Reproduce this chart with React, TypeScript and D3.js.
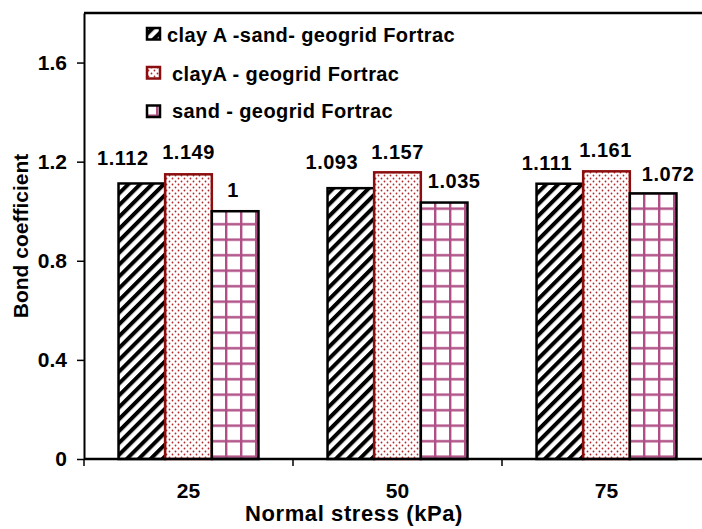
import React, { useEffect, useRef } from 'react';
import * as d3 from 'd3';

// chart data
const categories = ['25', '50', '75'];
const seriesNames = [
  'clay A -sand- geogrid Fortrac',
  'clayA - geogrid Fortrac',
  'sand - geogrid Fortrac',
];
const clayASandValues = [1.112, 1.093, 1.111];
const clayAValues = [1.149, 1.157, 1.161];
const sandValues = [1, 1.035, 1.072];
const yTicks = [0, 0.4, 0.8, 1.2, 1.6];

// hand-placed label nudges (Excel moved a few of them by hand)
const labelNudge: [number, number][][] = [
  [[-19, -4], [0, -1], [-2, 0]],
  [[-19, -5], [0, 1], [10, -1]],
  [[-13, 0], [-1, 0], [15, 2]],
];

const FONT = '"Liberation Sans", Arial, sans-serif';

const App: React.FC = () => {
  const svgRef = useRef<SVGSVGElement>(null);
  const width = 702;
  const height = 529;
  const margin = { top: 13, left: 84, bottom: 70 };

  useEffect(() => {
    if (!svgRef.current) return;
    const svg = d3.select(svgRef.current);
    svg.selectAll('*').remove();

    const series = [clayASandValues, clayAValues, sandValues];
    const fills = ['url(#hatch)', 'url(#dots)', 'url(#grid)'];
    const strokes = ['#000', '#8b0d0d', '#000'];

    // patterns
    const defs = svg.append('defs');
    const hatch = defs
      .append('pattern')
      .attr('id', 'hatch')
      .attr('patternUnits', 'userSpaceOnUse')
      .attr('width', 8.4)
      .attr('height', 8.4)
      .attr('patternTransform', 'rotate(45)');
    hatch.append('rect').attr('width', 8.4).attr('height', 8.4).attr('fill', '#fff');
    hatch.append('rect').attr('width', 4).attr('height', 8.4).attr('fill', '#000');

    const dots = defs
      .append('pattern')
      .attr('id', 'dots')
      .attr('patternUnits', 'userSpaceOnUse')
      .attr('width', 6)
      .attr('height', 6);
    dots.append('rect').attr('width', 6).attr('height', 6).attr('fill', '#fff');
    dots.append('circle').attr('cx', 1.5).attr('cy', 1.5).attr('r', 0.9).attr('fill', '#b02a2a');
    dots.append('circle').attr('cx', 4.5).attr('cy', 4.5).attr('r', 0.9).attr('fill', '#b02a2a');

    const grid = defs
      .append('pattern')
      .attr('id', 'grid')
      .attr('patternUnits', 'userSpaceOnUse')
      .attr('width', 15)
      .attr('height', 15.5);
    grid.append('rect').attr('width', 15).attr('height', 15.5).attr('fill', '#fff');
    grid.append('rect').attr('x', 6).attr('width', 2.4).attr('height', 15.5).attr('fill', '#b04f86');
    grid.append('rect').attr('y', 6).attr('width', 15).attr('height', 2.4).attr('fill', '#b04f86');

    const bandStep = 209;
    const x0 = d3
      .scaleBand<string>()
      .domain(categories)
      .range([margin.left, margin.left + bandStep * categories.length])
      .padding(0);
    const x1 = d3
      .scaleBand<number>()
      .domain([0, 1, 2])
      .range([0, x0.bandwidth()])
      .paddingInner(0)
      .paddingOuter(0.74);
    const y = d3
      .scaleLinear()
      .domain([0, 1.8])
      .range([height - margin.bottom, margin.top]);
    const y0 = y(0);

    // bars
    categories.forEach((c, ci) => {
      const g = svg.append('g').attr('transform', `translate(${x0(c)},0)`);
      series.forEach((vals, si) => {
        const v = vals[ci];
        g.append('rect')
          .attr('x', x1(si) || 0)
          .attr('y', y(v))
          .attr('width', x1.bandwidth())
          .attr('height', y0 - y(v))
          .attr('fill', fills[si])
          .attr('stroke', strokes[si])
          .attr('stroke-width', 2.5);
      });
    });

    // value labels
    categories.forEach((c, ci) => {
      series.forEach((vals, si) => {
        const v = vals[ci];
        const [dx, dy] = labelNudge[ci][si];
        svg
          .append('text')
          .attr('x', (x0(c) || 0) + (x1(si) || 0) + x1.bandwidth() / 2 + dx)
          .attr('y', y(v) - 14 + dy)
          .attr('text-anchor', 'middle')
          .style('font-family', FONT)
          .style('font-weight', 'bold')
          .style('font-size', '20px')
          .style('letter-spacing', '0.5px')
          .style('fill', '#000')
          .text(String(v));
      });
    });

    // frame top line
    svg
      .append('line')
      .attr('x1', margin.left)
      .attr('x2', width)
      .attr('y1', margin.top)
      .attr('y2', margin.top)
      .attr('stroke', '#000')
      .attr('stroke-width', 2.5);

    // y axis
    const yAxis = d3
      .axisLeft(y)
      .tickValues(yTicks)
      .tickSize(7)
      .tickSizeOuter(0)
      .tickPadding(10)
      .tickFormat(d => String(d));
    const ya = svg.append('g').attr('transform', `translate(${margin.left},0)`).call(yAxis);
    ya.select('.domain').attr('stroke-width', 2);
    ya.selectAll('.tick line').attr('stroke-width', 1.5);
    ya.selectAll('text')
      .style('font-family', FONT)
      .style('font-weight', 'bold')
      .style('font-size', '21px')
      .attr('fill', '#000');

    // x axis
    svg
      .append('line')
      .attr('x1', margin.left)
      .attr('x2', width)
      .attr('y1', y0)
      .attr('y2', y0)
      .attr('stroke', '#000')
      .attr('stroke-width', 2.5);
    categories.forEach((c, ci) => {
      const bx = x0(c) || 0;
      svg
        .append('line')
        .attr('x1', bx)
        .attr('x2', bx)
        .attr('y1', y0)
        .attr('y2', y0 + 7)
        .attr('stroke', '#000')
        .attr('stroke-width', 1.5);
      svg
        .append('text')
        .attr('x', bx + x0.bandwidth() / 2)
        .attr('y', 498)
        .attr('text-anchor', 'middle')
        .style('font-family', FONT)
        .style('font-weight', 'bold')
        .style('font-size', '21px')
        .text(c);
    });

    // axis titles
    svg
      .append('text')
      .attr('x', 354)
      .attr('y', 521)
      .attr('text-anchor', 'middle')
      .style('font-family', FONT)
      .style('font-weight', 'bold')
      .style('font-size', '22px')
      .style('letter-spacing', '0.6px')
      .text('Normal stress (kPa)');
    svg
      .append('text')
      .attr('transform', `translate(28,${(margin.top + y0) / 2}) rotate(-90)`)
      .attr('text-anchor', 'middle')
      .style('font-family', FONT)
      .style('font-weight', 'bold')
      .style('font-size', '21px')
      .text('Bond coefficient');

    // legend
    const legendRows = [
      { sx: 147, sy: 28, tx: 167, ty: 42 },
      { sx: 147, sy: 67, tx: 172, ty: 80.5 },
      { sx: 147, sy: 105.5, tx: 172, ty: 117.5 },
    ];
    seriesNames.forEach((name, si) => {
      const r = legendRows[si];
      svg
        .append('rect')
        .attr('x', r.sx)
        .attr('y', r.sy)
        .attr('width', 13)
        .attr('height', 11.5)
        .attr('fill', fills[si])
        .attr('stroke', strokes[si])
        .attr('stroke-width', 2.5);
      svg
        .append('text')
        .attr('x', r.tx)
        .attr('y', r.ty)
        .style('font-family', FONT)
        .style('font-weight', 'bold')
        .style('font-size', '20px')
        .style('letter-spacing', '0.4px')
        .text(name);
    });
  }, []);

  return (
    <svg
      ref={svgRef}
      width={width}
      height={height}
      style={{ position: 'absolute', left: 0, top: 0, background: '#fff' }}
    />
  );
};

export default App;
